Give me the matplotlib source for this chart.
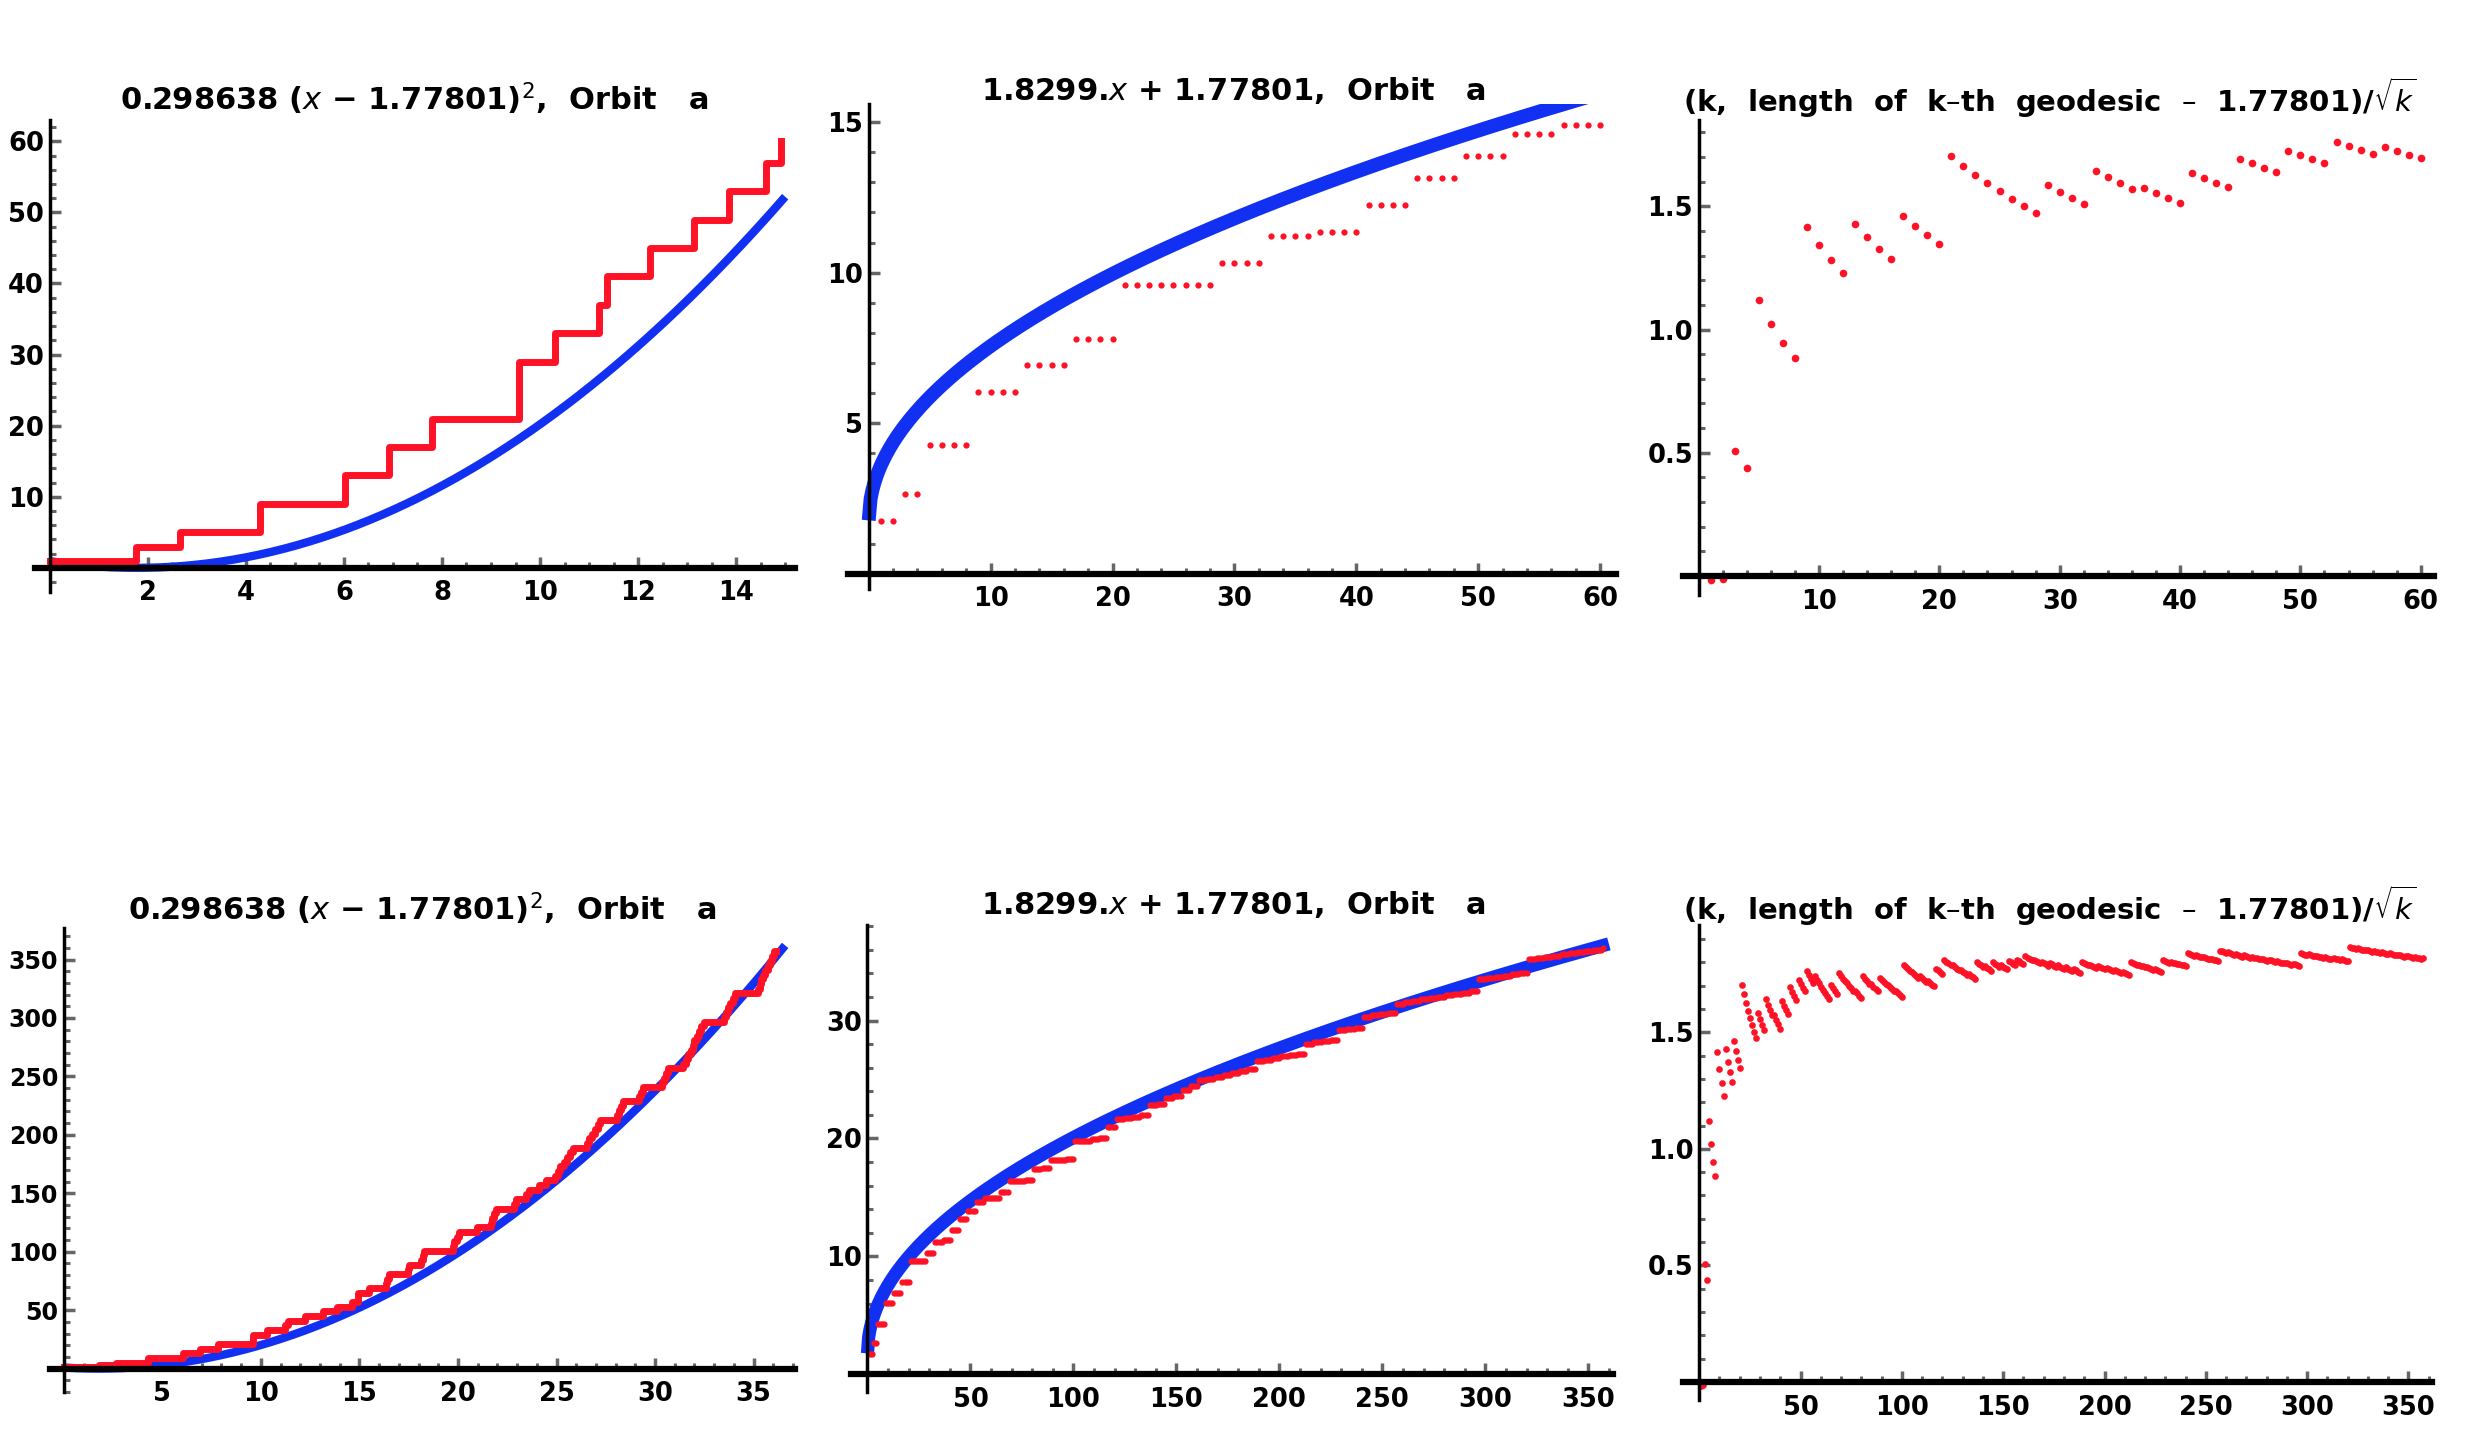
import numpy as np
import matplotlib
matplotlib.use('Agg')
import matplotlib.pyplot as plt
from matplotlib.ticker import MultipleLocator, FixedLocator

plt.rcParams['font.family'] = ['DejaVu Sans']
plt.rcParams['mathtext.fontset'] = 'dejavusans'

# distinct geodesic lengths of orbit a and how many times each one occurs
length_values = [1.763, 2.654, 4.28, 6.03, 6.92, 7.80, 9.58, 10.31, 11.21, 11.36,
                 12.24, 13.13, 13.86, 14.60, 14.91, 15.49, 16.36, 16.40, 16.50, 17.44,
                 17.50, 18.14, 18.20, 18.30, 19.77, 19.80, 19.95, 20.05, 20.95, 21.69,
                 21.75, 21.85, 21.95, 22.84, 22.95, 23.45, 23.60, 24.11, 24.46, 24.94,
                 25.05, 25.20, 25.40, 25.55, 25.70, 25.85, 26.53, 26.65, 26.80, 26.95,
                 27.10, 27.20, 28.05, 28.15, 28.25, 28.35, 29.17, 29.30, 29.40, 30.34,
                 30.45, 30.55, 30.65, 31.44, 31.55, 31.65, 31.80, 31.90, 32.00, 32.15,
                 32.25, 32.35, 32.50, 33.48, 33.60, 33.70, 33.80, 33.95, 34.05, 35.20,
                 35.30, 35.40, 35.50, 35.60, 35.72, 35.82, 35.92, 36.02, 36.15]
length_mult = [2, 2, 4, 4, 4, 4, 8, 4, 4, 4,
               4, 4, 4, 4, 8, 4, 4, 4, 4, 4,
               4, 4, 4, 4, 4, 4, 4, 4, 4, 4,
               4, 4, 4, 4, 4, 4, 4, 4, 4, 4,
               4, 4, 4, 4, 4, 4, 4, 4, 4, 4,
               4, 4, 4, 4, 4, 4, 4, 4, 4, 4,
               4, 4, 4, 4, 4, 4, 4, 4, 4, 4,
               4, 4, 4, 4, 4, 4, 4, 4, 4, 4,
               4, 4, 4, 4, 4, 4, 4, 4, 1]
n_top = 60

# fitted constants shown in the titles
c_quad = 0.298638
c_sqrt = 1.8299
l0 = 1.77801
step_start = 0.0

lengths = np.repeat(length_values, length_mult)
k_all = np.arange(1, len(lengths) + 1)

RED = '#FF1226'
BLUE = '#1230F2'
TICK_GRAY = '#666666'
W, H = 2472, 1452

fig = plt.figure(figsize=(W / 100, H / 100), dpi=100)


def make_axes(px_left, px_right, px_top, px_bottom, xlim, ylim,
              xmaj, xmin, ymaj, ymin, yfmt='{:g}', ysize=18.5):
    ax = fig.add_axes([px_left / W, 1 - px_bottom / H,
                       (px_right - px_left) / W, (px_bottom - px_top) / H])
    ax.set_xlim(*xlim)
    ax.set_ylim(*ylim)
    for s in ['top', 'right']:
        ax.spines[s].set_visible(False)
    ax.spines['left'].set_position(('data', 0))
    ax.spines['bottom'].set_position(('data', 0))
    ax.spines['left'].set_linewidth(2.5)
    ax.spines['bottom'].set_linewidth(4.5)
    ax.spines['left'].set_zorder(5)
    ax.spines['bottom'].set_zorder(5)
    ax.xaxis.set_major_locator(FixedLocator(xmaj))
    ax.yaxis.set_major_locator(FixedLocator(ymaj))
    ax.xaxis.set_minor_locator(MultipleLocator(xmin))
    ax.yaxis.set_minor_locator(MultipleLocator(ymin))
    ax.set_xticklabels([f'{v:g}' for v in xmaj])
    ax.set_yticklabels([yfmt.format(v) for v in ymaj])
    ax.tick_params(which='major', direction='in', length=8, width=2.5,
                   color=TICK_GRAY)
    ax.tick_params(axis='x', which='major', labelsize=18.5, pad=9)
    ax.tick_params(axis='y', which='major', labelsize=ysize, pad=4)
    ax.tick_params(which='minor', direction='in', length=4.5, width=2.2,
                   color=TICK_GRAY)
    for lab in ax.get_xticklabels() + ax.get_yticklabels():
        lab.set_fontweight('bold')
    ax.patch.set_alpha(0)
    return ax


def title(x, y, s, size=22):
    fig.text(x / W, 1 - y / H, s, ha='center', va='center', fontsize=size,
             fontweight='bold')


t_quad = '0.298638 ($x$ \u2212 1.77801)$^2$,  Orbit   a'
t_sqrt = '1.8299.$x$ + 1.77801,  Orbit   a'
t_ratio = '(k,  length  of  k\u2013th  geodesic  \u2013  1.77801)/$\\sqrt{k}$'

# ---------- top row: first 60 geodesics ----------
L_top = lengths[:n_top]
k_top = k_all[:n_top]

ax = make_axes(35, 795, 120, 592, (-0.3, 15.2), (-3.4, 63),
               [2, 4, 6, 8, 10, 12, 14], 0.5, [10, 20, 30, 40, 50, 60], 2)
xs = np.linspace(0, 15, 300)
ax.plot(xs, c_quad * (xs - l0) ** 2, color=BLUE, lw=6, solid_capstyle='butt')
ax.step(np.r_[step_start, L_top], np.r_[1, k_top], where='pre', color=RED, lw=5)
title(414, 99, t_quad)

ax = make_axes(848, 1616, 104, 589, (-1.7, 61.3), (-0.5, 15.6),
               [10, 20, 30, 40, 50, 60], 2, [5, 10, 15], 1)
xs = np.linspace(0, 61.3, 400)
ax.plot(xs, c_sqrt * np.sqrt(xs) + l0, color=BLUE, lw=10, solid_capstyle='butt')
ax.plot(k_top, L_top, 'o', color=RED, ms=4.5, mec='none')
title(1234, 90, t_sqrt)

ax = make_axes(1683, 2434, 120, 595, (-1.3, 61.1), (-0.077, 1.85),
               [10, 20, 30, 40, 50, 60], 2, [0.5, 1.0, 1.5], 0.1, '{:.1f}')
ax.plot(k_top, (L_top - l0) / np.sqrt(k_top), 'o', color=RED, ms=5.5, mec='none')
title(2050, 98, t_ratio, 21)

# ---------- bottom row: all geodesics ----------
ax = make_axes(50, 795, 928, 1392, (-0.7, 37.1), (-20, 377),
               [5, 10, 15, 20, 25, 30, 35], 1, [50, 100, 150, 200, 250, 300, 350], 10,
               ysize=17)
xs = np.linspace(0, 36.6, 300)
ax.plot(xs, c_quad * (xs - l0) ** 2, color=BLUE, lw=6, solid_capstyle='butt')
ax.step(np.r_[step_start, lengths], np.r_[1, k_all], where='pre', color=RED, lw=5)
title(422, 909, t_quad)

ax = make_axes(851, 1613, 925, 1392, (-8, 362), (-1.5, 38.1),
               [50, 100, 150, 200, 250, 300, 350], 10, [10, 20, 30], 2)
xs = np.linspace(0, 360, 600)
ax.plot(xs, c_sqrt * np.sqrt(xs) + l0, color=BLUE, lw=9.5, solid_capstyle='butt')
ax.plot(k_all, lengths, 'o', color=RED, ms=4.5, mec='none')
title(1234, 904, t_sqrt)

ax = make_axes(1683, 2432, 925, 1400, (-8, 361.6), (-0.077, 1.96),
               [50, 100, 150, 200, 250, 300, 350], 10, [0.5, 1.0, 1.5], 0.1, '{:.1f}')
ax.plot(k_all, (lengths - l0) / np.sqrt(k_all), 'o', color=RED, ms=4.8, mec='none')
title(2050, 906, t_ratio, 21)

fig.savefig('out.png', dpi=100)
